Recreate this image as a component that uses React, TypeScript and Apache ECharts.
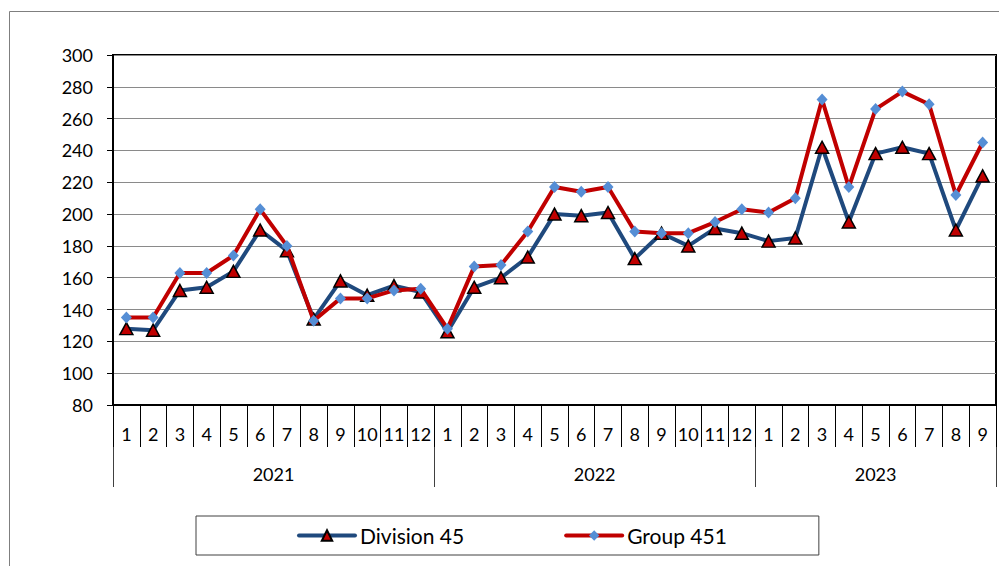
import React, { useEffect, useRef } from "react";
import * as echarts from "echarts";

const years = ["2021", "2022", "2023"];
const monthsPerYear = [12, 12, 9];
const months: string[] = monthsPerYear.flatMap((n) => Array.from({ length: n }, (_, i) => String(i + 1)));

const division45 = [
  128, 127, 152, 154, 164, 190, 177, 134, 158, 149, 155, 151,
  126, 154, 160, 173, 200, 199, 201, 172, 188, 180, 191, 188,
  183, 185, 242, 195, 238, 242, 238, 190, 224,
];
const group451 = [
  135, 135, 163, 163, 174, 203, 180, 133, 147, 147, 152, 153,
  128, 167, 168, 189, 217, 214, 217, 189, 188, 188, 195, 203,
  201, 210, 272, 217, 266, 277, 269, 212, 245,
];

const FONT = "Lato";

export default function App() {
  const ref = useRef<HTMLDivElement>(null);
  useEffect(() => {
    if (!ref.current) return;
    const chart = echarts.init(ref.current, null, { renderer: "svg" });
    const n = months.length;
    const centers: { v: number; label: string }[] = [];
    let acc = 0;
    monthsPerYear.forEach((c, i) => {
      centers.push({ v: acc + c / 2, label: years[i] });
      acc += c;
    });
    chart.setOption({
      animation: false,
      backgroundColor: "#ffffff",
      graphic: [
        {
          type: "rect",
          z: -10,
          shape: { x: 9.5, y: 11.5, width: 1200, height: 800 },
          style: { fill: "none", stroke: "#7f7f7f", lineWidth: 1 },
        },
      ],
      grid: {
        left: 113,
        top: 55,
        bottom: 161,
        width: 890,
        show: true,
        borderColor: "#000",
        borderWidth: 2,
        backgroundColor: "transparent",
      },
      legend: {
        data: ["Division 45", "Group 451"],
        left: 196,
        top: 516,
        padding: [9, 92, 9, 101],
        itemGap: 100,
        itemWidth: 56,
        itemHeight: 13,
        borderColor: "#404040",
        borderWidth: 1,
        borderRadius: 0,
        lineStyle: { width: 4, cap: "round" },
        textStyle: { fontFamily: FONT, fontSize: 21, color: "#000" },
      },
      xAxis: [
        {
          type: "category",
          data: months,
          boundaryGap: true,
          axisLine: { show: true, lineStyle: { color: "#000", width: 2 } },
          axisTick: { show: true, interval: 0, length: 42, lineStyle: { color: "#000", width: 1 } },
          axisLabel: { interval: 0, margin: 20, fontFamily: FONT, fontSize: 18, color: "#000" },
          splitLine: { show: false },
        },
        {
          type: "value",
          min: 0,
          max: n,
          interval: 1.5,
          offset: 42,
          position: "bottom",
          axisLine: { show: false },
          axisTick: { show: false },
          splitLine: { show: false },
          axisLabel: {
            margin: 18,
            fontFamily: FONT,
            fontSize: 18,
            color: "#000",
            showMinLabel: true,
            showMaxLabel: true,
            formatter: (v: number) => {
              const c = centers.find((e) => Math.abs(e.v - v) < 1e-6);
              return c ? c.label : "";
            },
          },
        },
        {
          type: "value",
          min: 0,
          max: n,
          interval: 12,
          offset: 42,
          position: "bottom",
          axisLine: { show: false },
          axisTick: { show: true, length: 40, lineStyle: { color: "#404040", width: 1 } },
          splitLine: { show: false },
          axisLabel: { show: false },
        },
      ],
      yAxis: {
        type: "value",
        min: 80,
        max: 300,
        interval: 20,
        axisLine: { show: true, lineStyle: { color: "#000", width: 2 } },
        axisTick: { show: true, length: 6, lineStyle: { color: "#000", width: 1 } },
        axisLabel: { margin: 20, fontFamily: FONT, fontSize: 18, color: "#000" },
        splitLine: { show: true, lineStyle: { color: "#8a8a8a", width: 1 } },
      },
      series: [
        {
          name: "Division 45",
          type: "line",
          data: division45,
          symbol: "triangle",
          symbolSize: [13, 12],
          lineStyle: { color: "#1f497d", width: 4 },
          itemStyle: { color: "#c00000", borderColor: "#000", borderWidth: 1.5 },
          z: 2,
        },
        {
          name: "Group 451",
          type: "line",
          data: group451,
          symbol: "diamond",
          symbolSize: [11, 12],
          lineStyle: { color: "#c00000", width: 4 },
          itemStyle: { color: "#558ed5", borderColor: "#558ed5", borderWidth: 0 },
          z: 3,
        },
      ],
    });
    return () => chart.dispose();
  }, []);
  return (
    <div
      ref={ref}
      style={{ position: "fixed", left: 0, top: 0, width: 999, height: 566 }}
    />
  );
}
